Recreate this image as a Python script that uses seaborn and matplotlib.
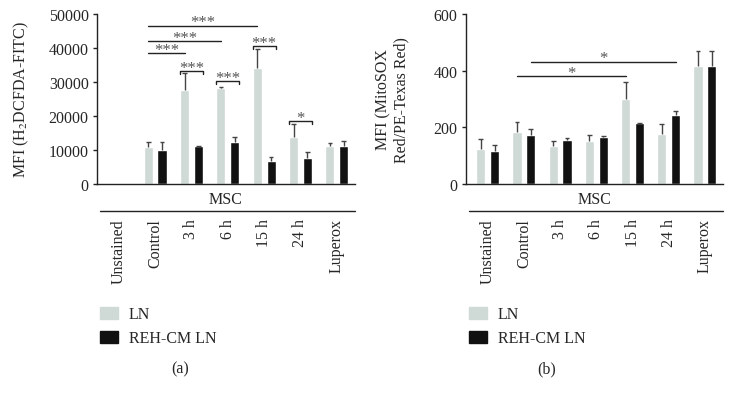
import matplotlib
matplotlib.use("Agg")
import matplotlib.pyplot as plt
import matplotlib.patches as mpatches
import numpy as np
import pandas as pd
import seaborn as sns

# ---- data ----
categories = ["Unstained", "Control", "3 h", "6 h", "15 h", "24 h", "Luperox"]
groups = ["LN", "REH-CM LN"]

dcfda_ln = [150, 10800, 27650, 28150, 34100, 13900, 11250]
dcfda_ln_err = [0, 1650, 4900, 450, 5600, 3750, 750]
dcfda_reh = [150, 10000, 11150, 12450, 6650, 7650, 11250]
dcfda_reh_err = [0, 2250, 150, 1250, 1400, 1850, 1300]

mitosox_ln = [123, 185, 135, 151, 300, 177, 418]
mitosox_ln_err = [36, 33, 18, 23, 59, 35, 53]
mitosox_reh = [118, 173, 155, 165, 215, 245, 418]
mitosox_reh_err = [21, 21, 6, 6, 2, 12, 53]

# significance brackets: (group_a, bar_a, group_b, bar_b, y, label, with end ticks)
dcfda_sig = [
    (1, 0, 4, 0, 46500, "***", False),
    (1, 0, 3, 0, 42000, "***", False),
    (1, 0, 2, 0, 38500, "***", False),
    (2, 0, 2, 1, 33200, "***", True),
    (3, 0, 3, 1, 30300, "***", True),
    (4, 0, 4, 1, 40600, "***", True),
    (5, 0, 5, 1, 18500, "*", True),
]
mitosox_sig = [
    (1, 0, 4, 0, 381, "*", False),
    (1, 1, 5, 1, 431, "*", False),
]

LN_COLOR = "#cfd9d6"
REH_COLOR = "#111111"
ERR_COLOR = "#444444"
STAR_COLOR = "#555555"

sns.set_theme(style="white")
plt.rcParams["font.family"] = ["Liberation Serif", "DejaVu Serif"]
plt.rcParams["mathtext.fontset"] = "stix"
FS = 11.5


def make_frame(ln, reh):
    return pd.DataFrame({
        "condition": categories * 2,
        "group": [groups[0]] * len(categories) + [groups[1]] * len(categories),
        "value": list(ln) + list(reh),
    })


def draw_panel(ax, ln, ln_err, reh, reh_err, sig, ymax, yticks, tick_h):
    df = make_frame(ln, reh)
    sns.barplot(data=df, x="condition", y="value", hue="group", order=categories,
                hue_order=groups, palette=[LN_COLOR, REH_COLOR], errorbar=None,
                width=0.76, gap=0.34, saturation=1, legend=False, ax=ax)

    centers = []
    for cont, err in zip(ax.containers, [ln_err, reh_err]):
        xs = [b.get_x() + b.get_width() / 2 for b in cont]
        tops = [b.get_height() for b in cont]
        centers.append(xs)
        for x, t, e in zip(xs, tops, err):
            if e <= 0:
                continue
            ax.vlines(x, t, t + e, color=ERR_COLOR, lw=1, zorder=3)
            ax.hlines(t + e, x - 0.065, x + 0.065, color=ERR_COLOR, lw=1, zorder=3)

    for ga, ba, gb, bb, y, lab, ends in sig:
        if ends:
            x1 = centers[0][ga] - 0.13
            x2 = centers[1][gb] + 0.13
            ax.plot([x1, x1, x2, x2], [y - tick_h, y, y, y - tick_h], color="#222222", lw=1,
                    clip_on=False)
        else:
            x1 = centers[ba][ga]
            x2 = centers[bb][gb]
            ax.plot([x1, x2], [y, y], color="#222222", lw=1, clip_on=False)
        ax.text((x1 + x2) / 2, y - tick_h * 0.2, lab, ha="center", va="baseline",
                fontsize=12, color=STAR_COLOR, clip_on=False)

    ax.set_xlim(-0.6, 6.5)
    ax.set_ylim(0, ymax)
    ax.set_yticks(yticks)
    ax.set_xticks(range(len(categories)))
    ax.set_xticklabels(categories, rotation=90, va="top", ha="center", fontsize=FS)
    ax.tick_params(axis="x", length=0, pad=24.5)
    ax.tick_params(axis="y", left=True, length=3, width=1, labelsize=FS, pad=3, color="#222222")
    ax.set_xlabel("")
    sns.despine(ax=ax)
    for s in ["left", "bottom"]:
        ax.spines[s].set_color("#222222")
        ax.spines[s].set_linewidth(1)

    # category bracket "MSC"
    ax.text(0.5, -0.088, "MSC", transform=ax.transAxes, ha="center", va="center", fontsize=FS)
    ax.plot([0.012, 1.0], [-0.159, -0.159], transform=ax.transAxes, color="#222222", lw=1,
            clip_on=False)

    handles = [mpatches.Patch(color=LN_COLOR, label=groups[0]),
               mpatches.Patch(color=REH_COLOR, label=groups[1])]
    ax.legend(handles=handles, loc="upper left", bbox_to_anchor=(0.012, -0.72),
              frameon=False, fontsize=FS, handlelength=1.1, handleheight=0.75,
              handletextpad=0.7, labelspacing=0.5, borderpad=0, borderaxespad=0)


fig = plt.figure(figsize=(7.34, 4.02), dpi=100)
ax1 = fig.add_axes([97 / 734, 1 - 185 / 402, 258 / 734, 170 / 402])
ax2 = fig.add_axes([466 / 734, 1 - 185 / 402, 257 / 734, 170 / 402])

draw_panel(ax1, dcfda_ln, dcfda_ln_err, dcfda_reh, dcfda_reh_err, dcfda_sig,
           50000, [0, 10000, 20000, 30000, 40000, 50000], 800)
draw_panel(ax2, mitosox_ln, mitosox_ln_err, mitosox_reh, mitosox_reh_err, mitosox_sig,
           600, [0, 200, 400, 600], 10)

ax1.set_ylabel("MFI (H$_2$DCFDA-FITC)", fontsize=FS)
ax1.yaxis.set_label_coords(-0.255, 0.5)
ax2.set_ylabel("MFI (MitoSOX\nRed/PE-Texas Red)", fontsize=FS, linespacing=1.15)
ax2.yaxis.set_label_coords(-0.22, 0.5)

fig.text(180 / 734, 1 - 369 / 402, "(a)", ha="center", va="center", fontsize=FS)
fig.text(547 / 734, 1 - 369 / 402, "(b)", ha="center", va="center", fontsize=FS)

fig.savefig("out.png", dpi=100)
